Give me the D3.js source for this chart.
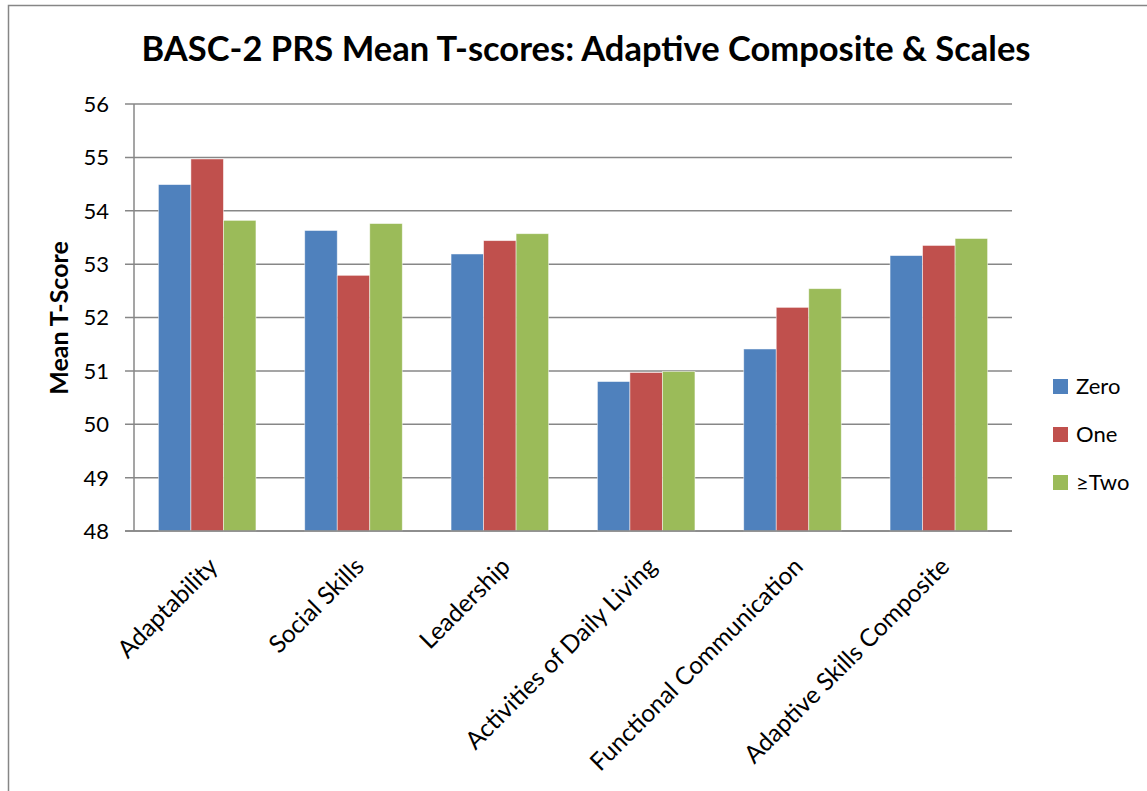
<!DOCTYPE html>
<html><head><meta charset="utf-8">
<script src="https://cdn.jsdelivr.net/npm/d3@7"></script>
<style>body{margin:0;background:#fff}svg{display:block}</style>
</head><body>
<script>
const categories = ["Adaptability","Social Skills","Leadership","Activities of Daily Living","Functional Communication","Adaptive Skills Composite"];
const seriesNames = ["Zero","One","\u2265Two"];
const zeroValues = [54.49, 53.63, 53.19, 50.80, 51.41, 53.16];
const oneValues  = [54.97, 52.79, 53.44, 50.97, 52.19, 53.35];
const twoValues  = [53.82, 53.76, 53.57, 50.99, 52.54, 53.48];
const yTicks = [48,49,50,51,52,53,54,55,56];
const colors = ["#4F81BD","#C0504D","#9BBB59"];
const seriesValues = [zeroValues, oneValues, twoValues];

(function(){
const W = 1147, H = 791;
const font = "Lato, 'Open Sans', sans-serif";
const svg = d3.select("body").append("svg").attr("width", W).attr("height", H);
svg.append("rect").attr("width", W).attr("height", H).attr("fill", "#fff");
svg.append("rect").attr("x", 8.5).attr("y", 5.5).attr("width", W + 20).attr("height", H + 20)
  .attr("fill", "none").attr("stroke", "#868686").attr("stroke-width", 1.5);

const pl = 134, pr = 1012, pt = 104, pb = 531;
const x0 = d3.scaleBand().domain(categories).range([pl, pr]).paddingInner(1/3).paddingOuter(1/6);
const x1 = d3.scaleBand().domain(d3.range(3)).range([0, x0.bandwidth()]);
const y = d3.scaleLinear().domain([48, 56]).range([pb, pt]);

const g = svg.append("g");
g.selectAll("line.grid").data(yTicks).join("line")
  .attr("x1", pl - 9).attr("x2", pr)
  .attr("y1", d => y(d)).attr("y2", d => y(d))
  .attr("stroke", "#878787").attr("stroke-width", 1.5);
g.selectAll("text.yt").data(yTicks).join("text")
  .attr("x", 109).attr("y", d => y(d)).attr("dy", "0.36em")
  .attr("text-anchor", "end").attr("font-family", font).attr("font-size", 22)
  .attr("fill", "#000").text(d => d);

categories.forEach((c, i) => {
  seriesValues.forEach((vals, s) => {
    svg.append("rect")
      .attr("x", x0(c) + x1(s)).attr("y", y(vals[i]))
      .attr("width", x1.bandwidth()).attr("height", y(48) - y(vals[i]))
      .attr("fill", colors[s]).attr("stroke", "#fff").attr("stroke-opacity", 0.6).attr("stroke-width", 0.8);
  });
});

svg.append("line").attr("x1", pl).attr("x2", pl).attr("y1", pt).attr("y2", pb)
  .attr("stroke", "#878787").attr("stroke-width", 1.5);
svg.append("line").attr("x1", pl - 9).attr("x2", pr).attr("y1", pb).attr("y2", pb)
  .attr("stroke", "#878787").attr("stroke-width", 1.5);

categories.forEach(c => {
  const cx = x0(c) + x0.bandwidth() / 2 + 12;
  svg.append("text")
    .attr("transform", `translate(${cx},${pb + 37}) rotate(-45)`)
    .attr("text-anchor", "end")
    .attr("font-family", font).attr("font-size", 24.5).attr("fill", "#000").text(c);
});

svg.append("text").attr("x", 586).attr("y", 61).attr("text-anchor", "middle")
  .attr("font-family", font).attr("font-weight", "bold").attr("font-size", 34.5)
  .attr("fill", "#000").text("BASC-2 PRS Mean T-scores: Adaptive Composite & Scales");

svg.append("text").attr("transform", `translate(68,318) rotate(-90)`)
  .attr("text-anchor", "middle").attr("font-family", font).attr("font-weight", "bold")
  .attr("font-size", 25).attr("fill", "#000").text("Mean T-Score");

const lg = svg.append("g");
seriesNames.forEach((n, i) => {
  const ly = 386.5 + i * 48;
  lg.append("rect").attr("x", 1053).attr("y", ly - 7.5).attr("width", 15).attr("height", 15).attr("fill", colors[i]);
  lg.append("text").attr("x", 1076).attr("y", ly).attr("dy", "0.36em")
    .attr("font-family", font).attr("font-size", 22).attr("fill", "#000").text(n);
});
})();
</script>
</body></html>
